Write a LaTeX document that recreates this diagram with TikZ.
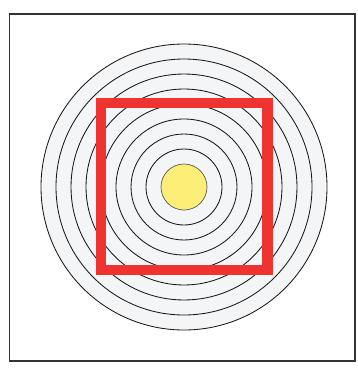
\documentclass[tikz,border=0pt]{standalone}
\usepackage{tikz}
\usepackage{xcolor}

\definecolor{ringfill}{HTML}{F3F5F7}
\definecolor{dotyellow}{HTML}{FDEE78}
\definecolor{squarered}{HTML}{EE3330}

\begin{document}
\begin{tikzpicture}[
        x=1pt, y=-1pt,
        frame/.style={draw=black!80, line width=1.2pt},
        ring/.style={draw=black!90, line width=0.85pt},
        ringdisc/.style={fill=ringfill},
        centredot/.style={draw=black!65, line width=0.7pt, fill=dotyellow},
        redsquare/.style={draw=squarered, line width=10.5pt, line join=miter}
    ]
    \useasboundingbox (0,0) rectangle (358,372);

    %% outer frame
    \draw[frame] (9.5,14) rectangle (355,361);

    %% target rings
    \coordinate (c) at (184,187);
    \fill[ringdisc] (c) circle[radius=143];
    \foreach \r in {143,128,...,38}
        \draw[ring] (c) circle[radius=\r];
    \draw[centredot] (c) circle[radius=23];

    %% red square
    \draw[redsquare] (101,103) rectangle (267.5,270);
\end{tikzpicture}
\end{document}
